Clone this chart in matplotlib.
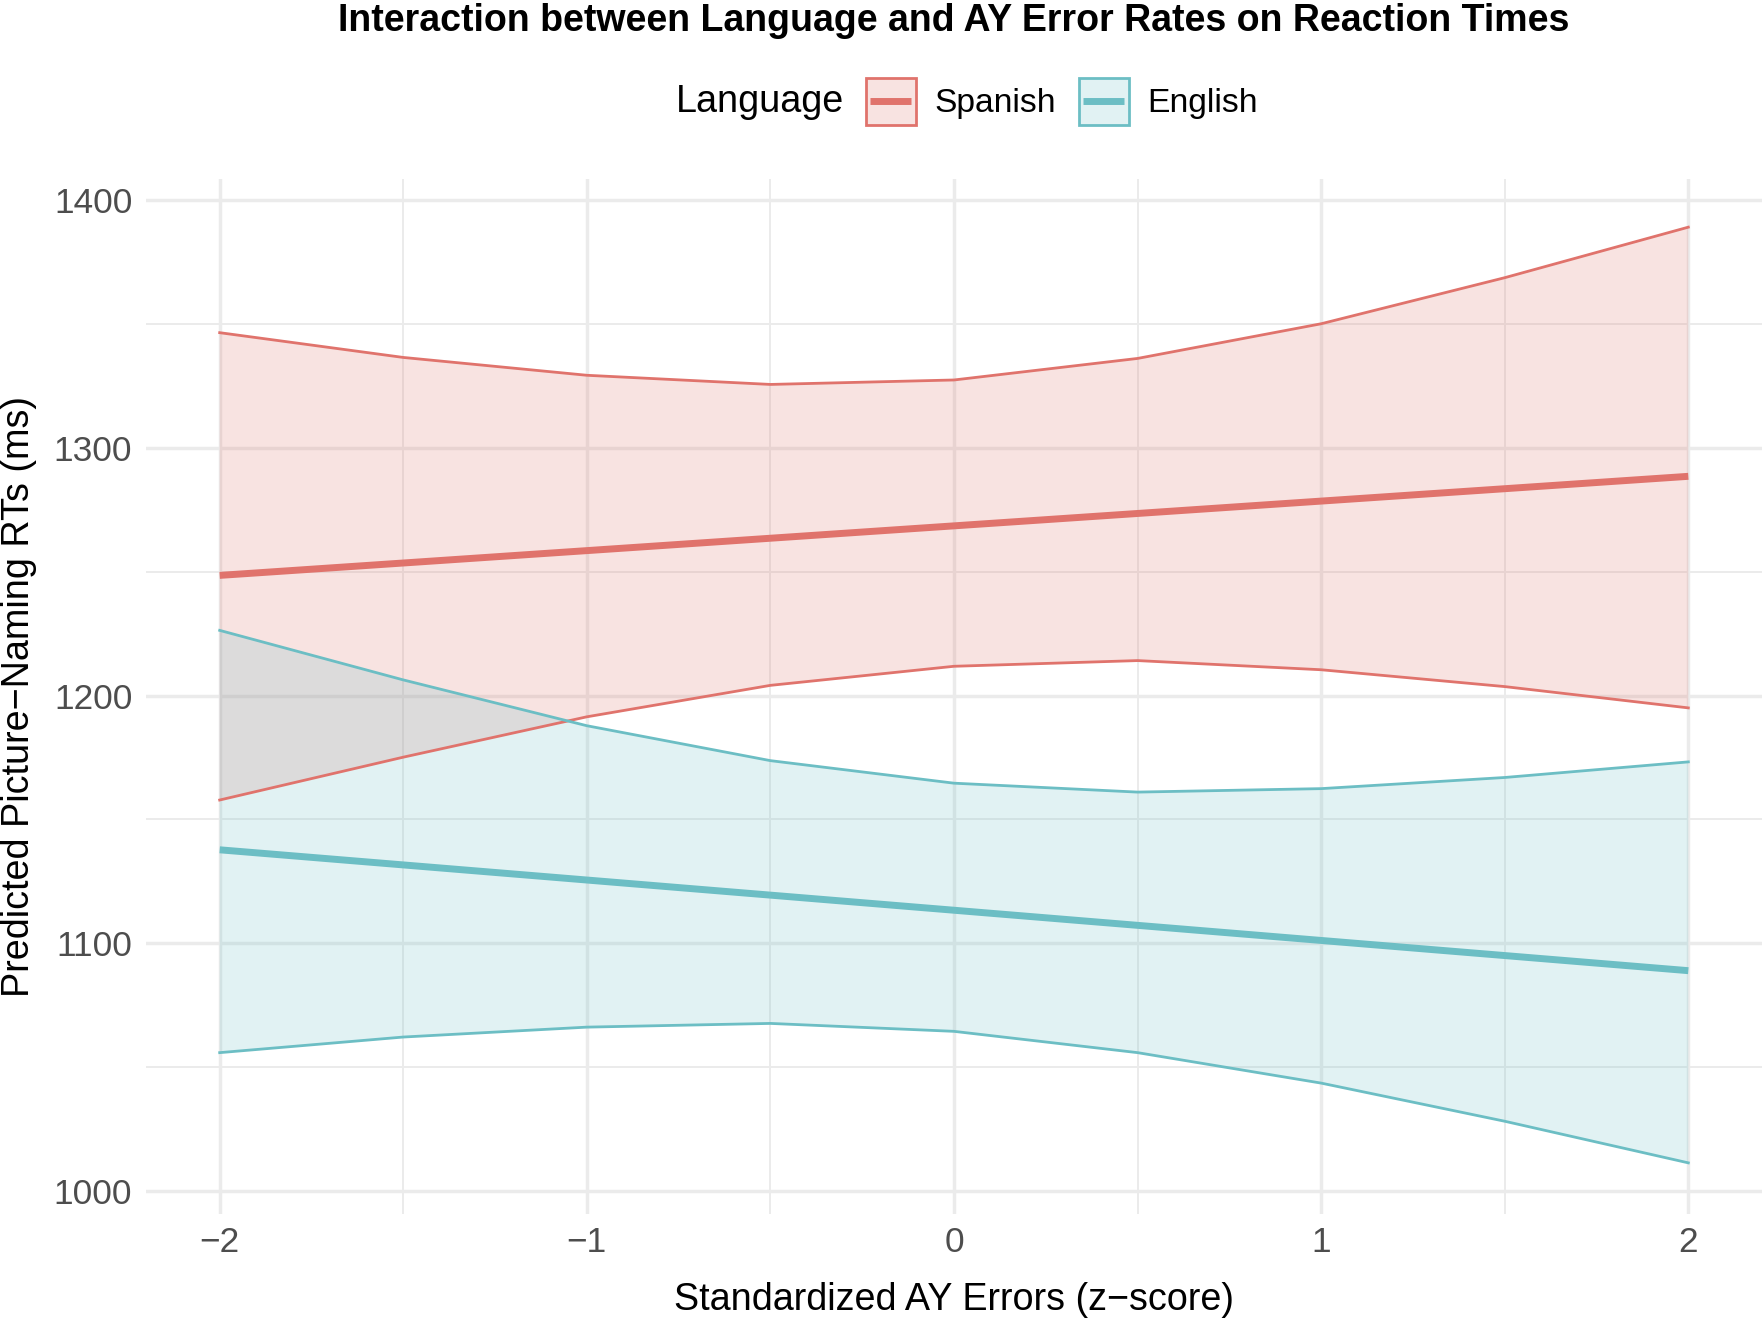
import matplotlib
matplotlib.use("Agg")
import matplotlib.pyplot as plt
from matplotlib.patches import Patch, Rectangle
from matplotlib.lines import Line2D
from matplotlib.legend_handler import HandlerBase
from matplotlib.ticker import MultipleLocator, FixedLocator

plt.rcParams['font.family'] = ['Liberation Sans', 'DejaVu Sans']

z = [-2.0, -1.5, -1.0, -0.5, 0.0, 0.5, 1.0, 1.5, 2.0]

spanish_fit = [1248.5, 1253.5, 1258.5, 1263.5, 1268.5, 1273.5, 1278.5, 1283.5, 1288.5]
spanish_lo = [1157.8, 1175.1, 1191.4, 1204.1, 1211.8, 1214.1, 1210.4, 1203.6, 1195.0]
spanish_hi = [1346.5, 1336.5, 1329.3, 1325.6, 1327.4, 1336.1, 1350.1, 1368.7, 1389.1]

english_fit = [1137.7, 1131.6, 1125.5, 1119.4, 1113.3, 1107.2, 1101.1, 1095.0, 1088.9]
english_lo = [1055.8, 1062.1, 1066.1, 1067.6, 1064.4, 1055.8, 1043.5, 1028.1, 1011.3]
english_hi = [1226.3, 1206.3, 1187.8, 1173.7, 1164.6, 1161.0, 1162.4, 1166.9, 1173.2]

languages = ["Spanish", "English"]
colors = {"Spanish": "#E0736C", "English": "#6CBEC4"}

x_ticks = [-2, -1, 0, 1, 2]
x_tick_labels = ["\u22122", "\u22121", "0", "1", "2"]
y_ticks = [1000, 1100, 1200, 1300, 1400]

DPI = 200
W, H = 1568.0, 1176.0  # layout reference grid
fig = plt.figure(figsize=(1764 / DPI, 1323 / DPI), dpi=DPI)
ax = fig.add_axes([130 / W, 1 - 1079 / H, (1566 - 130) / W, (1079 - 159) / H])

data = {
    "Spanish": (spanish_fit, spanish_lo, spanish_hi),
    "English": (english_fit, english_lo, english_hi),
}

for lang in languages:
    fit, lo, hi = data[lang]
    c = colors[lang]
    ax.fill_between(z, lo, hi, facecolor=c, alpha=0.2, linewidth=0, zorder=2)
    ax.plot(z, lo, color=c, lw=1.0, zorder=3)
    ax.plot(z, hi, color=c, lw=1.0, zorder=3)
for lang in languages:
    fit, lo, hi = data[lang]
    ax.plot(z, fit, color=colors[lang], lw=2.5, zorder=4, solid_capstyle='butt')

ax.set_xlim(-2.2, 2.2)
ax.set_ylim(990.7, 1408.6)
ax.xaxis.set_major_locator(FixedLocator(x_ticks))
ax.set_xticklabels(x_tick_labels)
ax.xaxis.set_minor_locator(MultipleLocator(0.5))
ax.yaxis.set_major_locator(FixedLocator(y_ticks))
ax.yaxis.set_minor_locator(MultipleLocator(50))

ax.grid(which='major', color='#EBEBEB', lw=1.25, zorder=0)
ax.grid(which='minor', color='#EBEBEB', lw=0.7, zorder=0)
ax.set_axisbelow(True)
for s in ax.spines.values():
    s.set_visible(False)
ax.tick_params(which='both', length=0)
ax.tick_params(axis='both', labelsize=12.7, labelcolor='#4D4D4D')
ax.tick_params(axis='x', pad=4.5)
ax.tick_params(axis='y', pad=5)

ax.set_xlabel("Standardized AY Errors (z\u2212score)", fontsize=13.6, color='black', labelpad=8)
ax.set_ylabel("Predicted Picture\u2212Naming RTs (ms)", fontsize=13.6, color='black', labelpad=6)

fig.text(848 / W, 1 - 19 / H, "Interaction between Language and AY Error Rates on Reaction Times",
         ha='center', va='center', fontsize=13.5, fontweight='bold')

fig.text(601 / W, 1 - 91 / H, "Language", ha='left', va='center', fontsize=13.6)


class KeyHandler(HandlerBase):
    def create_artists(self, legend, orig_handle, xdescent, ydescent, width, height, fontsize, trans):
        c = orig_handle.get_edgecolor()
        x0, y0 = -xdescent, -ydescent
        rect = Rectangle((x0, y0), width, height,
                         facecolor=orig_handle.get_facecolor(), edgecolor=c,
                         linewidth=1.0, transform=trans)
        ym = y0 + height / 2
        line = Line2D([x0 + 1.5, x0 + width - 1.5], [ym, ym], color=c, lw=2.5,
                      solid_capstyle='butt', transform=trans)
        return [rect, line]


handles = []
for lang in languages:
    c = colors[lang]
    handles.append(Patch(facecolor=matplotlib.colors.to_rgba(c, 0.2), edgecolor=c, linewidth=1.0))

leg = fig.legend(handles, languages, loc='center left', bbox_to_anchor=(770 / W, 1 - 90 / H),
                 ncol=2, frameon=False, fontsize=12.1, handlelength=1.47, handleheight=1.78,
                 handletextpad=0.55, columnspacing=0.7, borderaxespad=0, borderpad=0,
                 handler_map={Patch: KeyHandler()})

fig.savefig("out.png", dpi=DPI)
